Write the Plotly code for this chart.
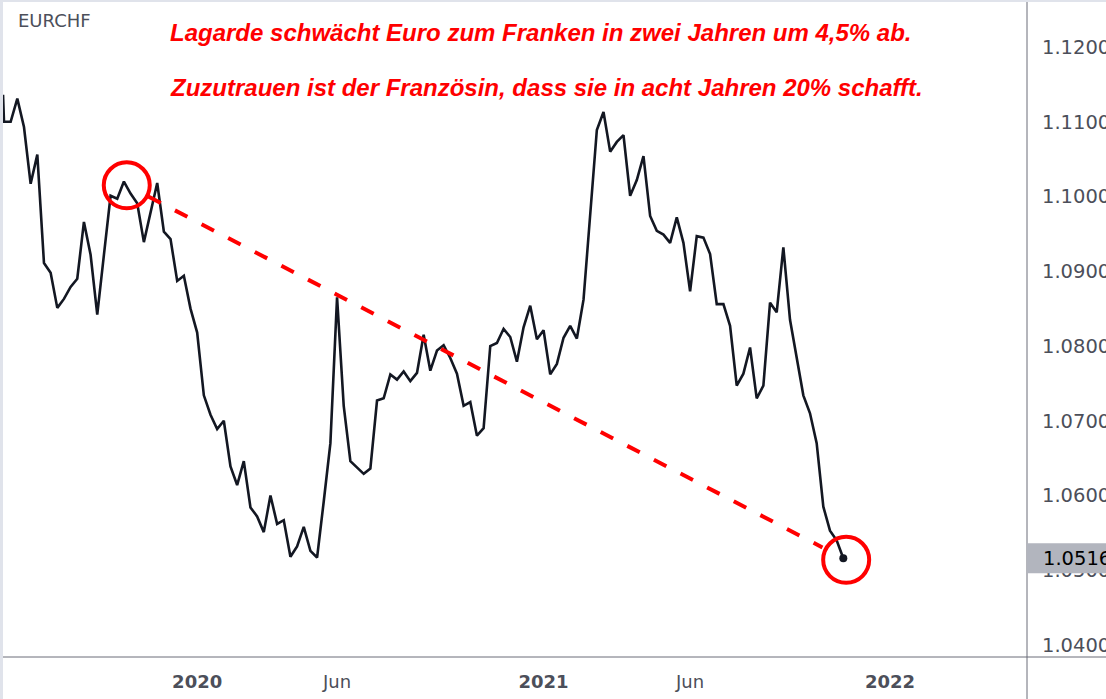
"""
@Title : EURCHF weekly line chart with trend annotation (Plotly).
"""

import pandas as pd
import plotly.graph_objects as go

# weekly closes, first week starting 2019-06-17
first_week = "2019-06-17"
lead_value = 1.1136  # partially visible point at the left edge
eurchf = [
    1.1100, 1.1100, 1.1131, 1.1093, 1.1017, 1.1056, 1.0911, 1.0898, 1.0851, 1.0863,
    1.0879, 1.0890, 1.0966, 1.0922, 1.0842, 1.0922, 1.1001, 1.0997, 1.1020, 1.1004,
    1.0991, 1.0939, 1.0978, 1.1018, 1.0953, 1.0943, 1.0887, 1.0894, 1.0850, 1.0818,
    1.0734, 1.0708, 1.0689, 1.0700, 1.0639, 1.0614, 1.0646, 1.0584, 1.0572, 1.0551,
    1.0600, 1.0562, 1.0567, 1.0518, 1.0532, 1.0558, 1.0526, 1.0517, 1.0592, 1.0670,
    1.0865, 1.0720, 1.0646, 1.0637, 1.0629, 1.0636, 1.0727, 1.0730, 1.0762, 1.0755,
    1.0766, 1.0753, 1.0764, 1.0815, 1.0767, 1.0794, 1.0801, 1.0784, 1.0763, 1.0720,
    1.0725, 1.0680, 1.0690, 1.0800, 1.0804, 1.0823, 1.0812, 1.0779, 1.0825, 1.0854,
    1.0809, 1.0821, 1.0762, 1.0776, 1.0811, 1.0827, 1.0810, 1.0862, 1.0973, 1.1089,
    1.1113, 1.1060, 1.1073, 1.1082, 1.1001, 1.1022, 1.1054, 1.0974, 1.0954, 1.0949,
    1.0938, 1.0972, 1.0938, 1.0873, 1.0947, 1.0945, 1.0923, 1.0856, 1.0856, 1.0827,
    1.0747, 1.0763, 1.0798, 1.0730, 1.0747, 1.0858, 1.0845, 1.0932, 1.0835, 1.0784,
    1.0734, 1.0710, 1.0670, 1.0585, 1.0553, 1.0540, 1.0516,
]

# axis ticks
y_ticks = [1.04, 1.05, 1.06, 1.07, 1.08, 1.09, 1.10, 1.11, 1.12]
x_tick_dates = ["2020-01-06", "2020-06-01", "2021-01-04", "2021-06-07", "2022-01-03"]
x_tick_text = ["<b>2020</b>", "Jun", "<b>2021</b>", "Jun", "<b>2022</b>"]

# hand drawn trend line (centres of the two red circles)
trend_dates = ["2019-10-24", "2021-11-18"]
trend_values = [1.1015, 1.0514]

symbol = "EURCHF"
headline_1 = "Lagarde schwächt Euro zum Franken in zwei Jahren um 4,5% ab."
headline_2 = "Zuzutrauen ist der Französin, dass sie in acht Jahren 20% schafft."


def draw_plots():
    """
    description:
        Draws the EURCHF line with the red dashed trend and circles.
    """
    weeks = pd.date_range(first_week, periods=len(eurchf), freq="7D")
    dates = [weeks[0] - pd.Timedelta(days=1)] + list(weeks)
    values = [lead_value] + eurchf

    W, H = 1106, 699
    ml, mr, mt, mb = 3, 79, 3, 42
    pw, ph = W - ml - mr, H - mt - mb
    px_per_day = 0.9516
    x_start = weeks[0] - pd.Timedelta(days=1.05)
    x_end = x_start + pd.Timedelta(days=pw / px_per_day)
    y_lo, y_hi = 1.038395, 1.125886

    ink = "#131722"
    text_grey = "#4c4f5a"
    axis_font = dict(family="DejaVu Sans", size=18, color=text_grey)
    price_font = dict(family="DejaVu Sans", size=19.5, color=text_grey)

    fig = go.Figure()
    fig.add_trace(go.Scatter(x=dates, y=values, mode="lines",
                             line=dict(color=ink, width=2.6), hoverinfo="skip"))
    fig.add_trace(go.Scatter(x=[dates[-1]], y=[values[-1]], mode="markers",
                             marker=dict(color=ink, size=8), hoverinfo="skip"))

    # dashed trend between the circle edges
    t_dates = pd.to_datetime(trend_dates)
    span = t_dates[1] - t_dates[0]
    dv = trend_values[1] - trend_values[0]
    f0, f1 = 0.030, 0.967
    fig.add_shape(type="line", xref="x", yref="y",
                  x0=t_dates[0] + span * f0, y0=trend_values[0] + dv * f0,
                  x1=t_dates[0] + span * f1, y1=trend_values[0] + dv * f1,
                  line=dict(color="#ff0000", width=4, dash="14px,16px"))
    for d, v in zip(t_dates, trend_values):
        fig.add_shape(type="circle", xref="x", yref="y",
                      xsizemode="pixel", ysizemode="pixel",
                      xanchor=d, yanchor=v, x0=-23, x1=23, y0=-23, y1=23,
                      line=dict(color="#ff0000", width=4))

    # pane separators and frame
    def px_x(p):
        return (p - ml) / pw

    def px_y(p):
        return (H - mb - p) / ph

    sep = "#6a6d78"
    fig.add_shape(type="line", xref="paper", yref="paper",
                  x0=1, x1=1, y0=px_y(0), y1=px_y(H), line=dict(color=sep, width=1), layer="above")
    fig.add_shape(type="line", xref="paper", yref="paper",
                  x0=px_x(0), x1=px_x(W), y0=0, y1=0, line=dict(color=sep, width=1), layer="above")
    fig.add_shape(type="rect", xref="paper", yref="paper",
                  x0=px_x(0), x1=px_x(3), y0=px_y(0), y1=px_y(H),
                  fillcolor="#e0e3eb", line=dict(width=0), layer="above")
    fig.add_shape(type="rect", xref="paper", yref="paper",
                  x0=px_x(0), x1=px_x(W), y0=px_y(0), y1=px_y(2),
                  fillcolor="#e0e3eb", line=dict(width=0), layer="above")

    # last price label on the axis
    fig.add_shape(type="rect", xref="paper", yref="y", ysizemode="pixel",
                  yanchor=values[-1], y0=-15, y1=15, x0=1, x1=px_x(W),
                  fillcolor="#b2b5be", line=dict(width=0), layer="above")
    fig.add_annotation(xref="paper", yref="y", x=px_x(1041), y=values[-1],
                       xanchor="left", yanchor="middle", showarrow=False,
                       text=f"{values[-1]:.4f}",
                       font=dict(family="DejaVu Sans", size=19.5, color="#000000"))

    fig.add_annotation(xref="paper", yref="paper", x=px_x(16), y=px_y(21),
                       xanchor="left", yanchor="middle", showarrow=False,
                       text=symbol, font=axis_font)
    for txt, ypos in [(headline_1, 33), (headline_2, 88)]:
        fig.add_annotation(xref="paper", yref="paper", x=px_x(168), y=px_y(ypos),
                           xanchor="left", yanchor="middle", showarrow=False,
                           text=f"<b><i>{txt}</i></b>",
                           font=dict(family="Liberation Sans", size=24, color="#ff0000"))

    fig.update_layout(
        template="none",
        width=W, height=H,
        margin=dict(l=ml, r=mr, t=mt, b=mb, pad=0),
        paper_bgcolor="white", plot_bgcolor="white",
        showlegend=False,
        xaxis=dict(range=[x_start, x_end], showgrid=False, zeroline=False,
                   showline=False, ticks="", tickvals=x_tick_dates,
                   ticktext=x_tick_text, tickfont=axis_font,
                   ticklabelstandoff=12, automargin=False, fixedrange=True),
        yaxis=dict(range=[y_lo, y_hi], side="right", showgrid=False,
                   zeroline=False, showline=False, ticks="",
                   tickvals=y_ticks, tickformat=".4f", tickfont=price_font,
                   ticklabelstandoff=14, automargin=False, fixedrange=True),
    )
    # page body has an 8px default margin; drop it so the chart fills the window
    fig.write_html("out.html", config={"displayModeBar": False},
                   post_script="document.body.style.margin='0';"
                               "document.body.style.overflow='hidden';")


def main():
    draw_plots()


if __name__ == "__main__":
    main()
